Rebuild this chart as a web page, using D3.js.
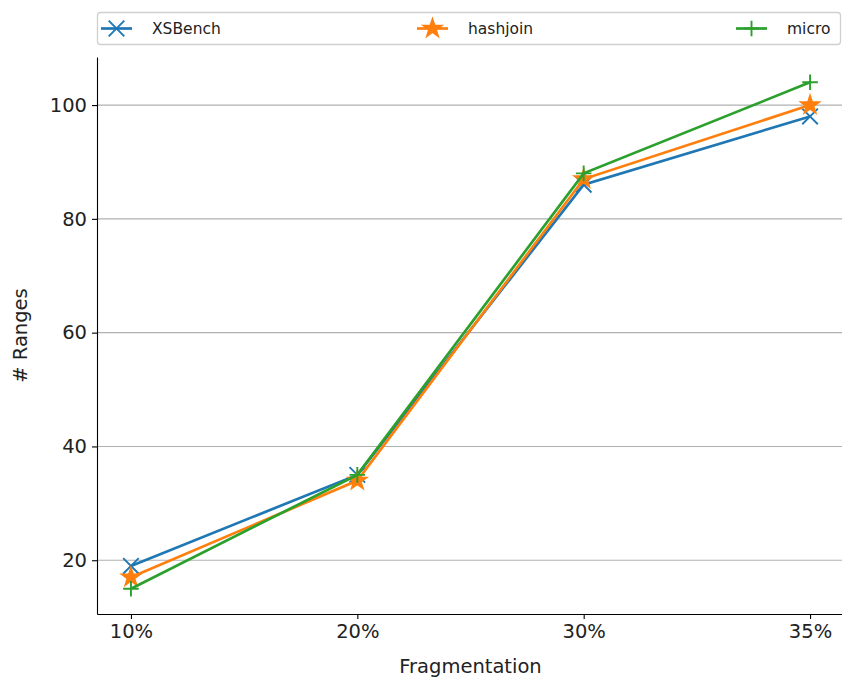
<!DOCTYPE html>
<html>
<head>
<meta charset="utf-8">
<script src="https://cdn.jsdelivr.net/npm/d3@7"></script>
<style>
  body { margin: 0; background: #fff; }
  text { font-family: "DejaVu Sans", sans-serif; fill: #222; }
</style>
</head>
<body>
<div id="chart"></div>
<script>
// data
const categories = ["10%", "20%", "30%", "35%"];
const xsbench = [19, 35, 86, 98];
const hashjoin = [17, 34, 87, 100];
const micro = [15, 35, 88, 104];
const yTicks = [20, 40, 60, 80, 100];

const series = [
  {name: "XSBench", values: xsbench, color: "#1f77b4", marker: "x"},
  {name: "hashjoin", values: hashjoin, color: "#ff7f0e", marker: "star"},
  {name: "micro", values: micro, color: "#2ca02c", marker: "plus"}
];

const W = 842, H = 679;
const margin = {top: 57, right: -2, bottom: 65, left: 97};
const width = W - margin.left - margin.right,
      height = H - margin.top - margin.bottom;

const svg = d3.select("#chart").append("svg")
    .attr("width", W)
    .attr("height", H);

const g = svg.append("g")
    .attr("transform", `translate(${margin.left},${margin.top})`);

// x is category index with matplotlib-like 5% padding
const x = d3.scaleLinear().domain([-0.15, 3.15]).range([0, width]);
const y = d3.scaleLinear().domain([10.55, 108.45]).range([height, 0]);

// horizontal grid
g.append("g")
  .selectAll("line")
  .data(yTicks)
  .enter().append("line")
    .attr("x1", 0).attr("x2", width)
    .attr("y1", d => y(d)).attr("y2", d => y(d))
    .attr("stroke", "#b0b0b0")
    .attr("stroke-width", 1.1);

// axes
const xAxis = g.append("g")
    .attr("transform", `translate(0,${height})`)
    .call(d3.axisBottom(x).tickValues([0, 1, 2, 3]).tickFormat(i => categories[i]).tickSize(5).tickPadding(5).tickSizeOuter(0));
const yAxis = g.append("g")
    .call(d3.axisLeft(y).tickValues(yTicks).tickSize(5).tickPadding(5).tickSizeOuter(0));

[xAxis, yAxis].forEach(a => {
  a.select(".domain").attr("stroke", "#000").attr("stroke-width", 1.1);
  a.selectAll(".tick line").attr("stroke", "#000").attr("stroke-width", 1.1);
  a.selectAll(".tick text").style("font-size", "19.5px").style("font-family", "DejaVu Sans").attr("fill", "#222");
});

// marker shapes: x and plus ~15.6px across, star outer radius ~9.5px
function markerPath(type, scale) {
  const h = 7.8 * scale;
  if (type === "x") return `M${-h},${-h}L${h},${h}M${-h},${h}L${h},${-h}`;
  if (type === "plus") return `M${-h},0L${h},0M0,${-h}L0,${h}`;
  // five-point star
  const R = 9.3 * scale;
  const pts = [];
  for (let k = 0; k < 10; k++) {
    const r = k % 2 === 0 ? R : R * 0.381966;
    const a = -Math.PI / 2 + k * Math.PI / 5;
    pts.push([r * Math.cos(a), r * Math.sin(a)]);
  }
  return "M" + pts.map(p => p.join(",")).join("L") + "Z";
}

function drawMarker(sel, s, scale) {
  sel.append("path")
    .attr("d", markerPath(s.marker, scale || 1))
    .attr("fill", s.marker === "star" ? s.color : "none")
    .attr("stroke", s.color)
    .attr("stroke-width", 1.9)
    .attr("stroke-linejoin", "miter");
}

const line = d3.line()
  .x((d, i) => x(i))
  .y(d => y(d));

series.forEach(s => {
  g.append("path")
    .datum(s.values)
    .attr("d", line)
    .attr("fill", "none")
    .attr("stroke", s.color)
    .attr("stroke-width", 2.7);
  s.values.forEach((v, i) => {
    const m = g.append("g").attr("transform", `translate(${x(i)},${y(v)})`);
    drawMarker(m, s);
  });
});

// axis labels
svg.append("text")
    .attr("x", margin.left + x(1.5))
    .attr("y", 673)
    .attr("text-anchor", "middle")
    .style("font-size", "19.5px")
    .text("Fragmentation");

svg.append("text")
    .attr("transform", `translate(27,${margin.top + height / 2}) rotate(-90)`)
    .attr("text-anchor", "middle")
    .style("font-size", "19.5px")
    .text("# Ranges");

// legend (expanded, 3 columns)
const legend = svg.append("g");
legend.append("rect")
    .attr("x", 97.5).attr("y", 12.5)
    .attr("width", 743).attr("height", 32)
    .attr("rx", 3)
    .attr("fill", "#fff")
    .attr("stroke", "#d0d0d0")
    .attr("stroke-width", 1.3);

const colX = [101, 417, 736];
series.forEach((s, i) => {
  const lg = legend.append("g").attr("transform", `translate(${colX[i]},28.5)`);
  lg.append("line")
    .attr("x1", 0).attr("x2", 31)
    .attr("stroke", s.color).attr("stroke-width", 2.7);
  drawMarker(lg.append("g").attr("transform", "translate(15.5,0)"), s);
  lg.append("text")
    .attr("x", 51)
    .attr("dy", "0.35em")
    .style("font-size", "15.5px")
    .text(s.name);
});
</script>
</body>
</html>
